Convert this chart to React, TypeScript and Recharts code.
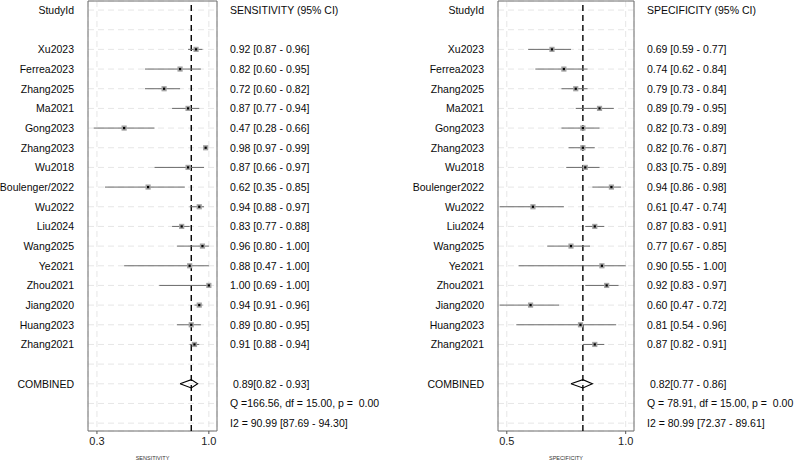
import {
  ScatterChart,
  Scatter,
  XAxis,
  YAxis,
  CartesianGrid,
  ErrorBar,
  ReferenceLine,
  ReferenceArea,
} from "recharts";

// study labels (spelling differs slightly between the two panels)
const sensStudies = [
  "Xu2023", "Ferrea2023", "Zhang2025", "Ma2021", "Gong2023", "Zhang2023",
  "Wu2018", "Boulenger/2022", "Wu2022", "Liu2024", "Wang2025", "Ye2021",
  "Zhou2021", "Jiang2020", "Huang2023", "Zhang2021",
];
const specStudies = [
  "Xu2023", "Ferrea2023", "Zhang2025", "Ma2021", "Gong2023", "Zhang2023",
  "Wu2018", "Boulenger2022", "Wu2022", "Liu2024", "Wang2025", "Ye2021",
  "Zhou2021", "Jiang2020", "Huang2023", "Zhang2021",
];

const sensitivity = [0.92, 0.82, 0.72, 0.87, 0.47, 0.98, 0.87, 0.62, 0.94, 0.83, 0.96, 0.88, 1.0, 0.94, 0.89, 0.91];
const sensLower = [0.87, 0.6, 0.6, 0.77, 0.28, 0.97, 0.66, 0.35, 0.88, 0.77, 0.8, 0.47, 0.69, 0.91, 0.8, 0.88];
const sensUpper = [0.96, 0.95, 0.82, 0.94, 0.66, 0.99, 0.97, 0.85, 0.97, 0.88, 1.0, 1.0, 1.0, 0.96, 0.95, 0.94];

const specificity = [0.69, 0.74, 0.79, 0.89, 0.82, 0.82, 0.83, 0.94, 0.61, 0.87, 0.77, 0.9, 0.92, 0.6, 0.81, 0.87];
const specLower = [0.59, 0.62, 0.73, 0.79, 0.73, 0.76, 0.75, 0.86, 0.47, 0.83, 0.67, 0.55, 0.83, 0.47, 0.54, 0.82];
const specUpper = [0.77, 0.84, 0.84, 0.95, 0.89, 0.87, 0.89, 0.98, 0.74, 0.91, 0.85, 1.0, 0.97, 0.72, 0.96, 0.91];

// pooled estimate [value, lower, upper]
const sensPooled = [0.89, 0.82, 0.93];
const specPooled = [0.82, 0.77, 0.86];

// heterogeneity: Q [Q, df, p], I2 [value, lower, upper]
const sensQ = [166.56, 15.0, 0.0];
const sensI2 = [90.99, 87.69, 94.3];
const specQ = [78.91, 15.0, 0.0];
const specI2 = [80.99, 72.37, 89.61];

const sensTicks = [0.3, 1.0];
const specTicks = [0.5, 1.0];

const FONT = "'Liberation Sans', Arial, sans-serif";
const ROWS = 22;
const rowTicks = Array.from({ length: ROWS }, (_, i) => i);
const yDomain: [number, number] = [-0.46, 21.4];

const f2 = (v: number) => v.toFixed(2);

interface PanelProps {
  names: string[];
  est: number[];
  lo: number[];
  hi: number[];
  pooled: number[];
  q: number[];
  i2: number[];
  title: string;
  axisTitle: string;
  xDomain: [number, number];
  xTicks: number[];
  width: number;
  leftW: number;
  rightW: number;
}

function StudyMarker(props: any) {
  const { cx, cy } = props;
  if (cx == null || cy == null) return <g />;
  return (
    <g>
      <rect x={cx - 2.6} y={cy - 2.6} width={5.2} height={5.2} fill="#a3a3a3" />
      <rect x={cx - 1.1} y={cy - 1.1} width={2.2} height={2.2} fill="#000" />
    </g>
  );
}

function ForestPanel(p: PanelProps) {
  const n = p.names.length;
  const combinedRow = n + 3;

  const points = p.est.map((v, i) => ({
    x: v,
    y: i + 2,
    err: [v - p.lo[i], p.hi[i] - v],
  }));

  const [pv, plo, phi] = p.pooled;
  const h = 0.21;
  const diamond = [
    { x: plo, y: combinedRow },
    { x: pv, y: combinedRow - h },
    { x: phi, y: combinedRow },
    { x: pv, y: combinedRow + h },
    { x: plo, y: combinedRow },
  ];

  const leftLabels: string[] = Array(ROWS).fill("");
  leftLabels[0] = "StudyId";
  p.names.forEach((s, i) => (leftLabels[i + 2] = s));
  leftLabels[combinedRow] = "COMBINED";

  const rightLabels: string[] = Array(ROWS).fill("");
  rightLabels[0] = p.title;
  p.est.forEach(
    (v, i) => (rightLabels[i + 2] = `${f2(v)} [${f2(p.lo[i])} - ${f2(p.hi[i])}]`)
  );
  rightLabels[combinedRow] = ` ${f2(pv)}[${f2(plo)} - ${f2(phi)}]`;
  rightLabels[combinedRow + 1] = `Q =${f2(p.q[0]).padStart(6)}, df = ${f2(p.q[1])}, p = ${f2(p.q[2]).padStart(5)}`;
  rightLabels[combinedRow + 2] = `I2 = ${f2(p.i2[0])} [${f2(p.i2[1])} - ${f2(p.i2[2])}]`;

  const tickText = (labels: string[], anchor: "start" | "end") => (t: any) => (
    <text
      x={t.x}
      y={t.y}
      dy="0.36em"
      textAnchor={anchor}
      fontSize={10.5}
      fill="#0a0a0a"
      xmlSpace="preserve"
      style={{ whiteSpace: "pre" }}
    >
      {labels[t.payload.value] ?? ""}
    </text>
  );

  return (
    <ScatterChart
      width={p.width}
      height={460}
      margin={{ top: 1, right: 0, bottom: 0, left: 0 }}
    >
      <CartesianGrid stroke="#e6e6e6" strokeDasharray="6 4" />
      <XAxis
        type="number"
        dataKey="x"
        domain={p.xDomain}
        ticks={p.xTicks}
        allowDataOverflow
        tickFormatter={(v: number) => v.toFixed(1)}
        tickSize={3}
        tickMargin={3}
        axisLine={false}
        tickLine={{ stroke: "#555" }}
        tick={{ fontSize: 11, fill: "#222" }}
        height={29}
        label={{
          value: p.axisTitle,
          position: "insideBottom",
          offset: 0,
          fontSize: 5.5,
          fill: "#333",
        }}
      />
      <YAxis
        type="number"
        dataKey="y"
        domain={yDomain}
        allowDataOverflow
        reversed
        ticks={rowTicks}
        interval={0}
        width={p.leftW}
        axisLine={false}
        tickLine={false}
        tickSize={0}
        tickMargin={14}
        tick={tickText(leftLabels, "end")}
      />
      <YAxis
        yAxisId="r"
        orientation="right"
        type="number"
        domain={yDomain}
        allowDataOverflow
        reversed
        ticks={rowTicks}
        interval={0}
        width={p.rightW}
        axisLine={false}
        tickLine={false}
        tickSize={0}
        tickMargin={13}
        tick={tickText(rightLabels, "start")}
      />
      <ReferenceArea
        x1={p.xDomain[0]}
        x2={p.xDomain[1]}
        y1={yDomain[0]}
        y2={yDomain[1]}
        fill="none"
        stroke="#6e6e6e"
        strokeWidth={1}
        ifOverflow="visible"
      />
      <ReferenceLine
        x={pv}
        stroke="#000"
        strokeWidth={1.4}
        strokeDasharray="6 4"
      />
      <Scatter
        data={points}
        shape={StudyMarker}
        isAnimationActive={false}
      >
        <ErrorBar
          dataKey="err"
          direction="x"
          width={0}
          stroke="#6a6a6a"
          strokeWidth={1}
          isAnimationActive={false}
        />
      </Scatter>
      <Scatter
        data={diamond}
        line={{ stroke: "#000", strokeWidth: 1.1 }}
        shape={() => <g />}
        isAnimationActive={false}
      />
    </ScatterChart>
  );
}

export default function App() {
  return (
    <div
      style={{
        position: "absolute",
        left: 0,
        top: 0,
        width: 795,
        height: 460,
        background: "#fff",
        display: "flex",
        fontFamily: FONT,
      }}
    >
      <ForestPanel
        names={sensStudies}
        est={sensitivity}
        lo={sensLower}
        hi={sensUpper}
        pooled={sensPooled}
        q={sensQ}
        i2={sensI2}
        title="SENSITIVITY (95% CI)"
        axisTitle="SENSITIVITY"
        xDomain={[0.244, 1.051]}
        xTicks={sensTicks}
        width={400}
        leftW={88}
        rightW={183}
      />
      <ForestPanel
        names={specStudies}
        est={specificity}
        lo={specLower}
        hi={specUpper}
        pooled={specPooled}
        q={specQ}
        i2={specI2}
        title="SPECIFICITY (95% CI)"
        axisTitle="SPECIFICITY"
        xDomain={[0.463, 1.035]}
        xTicks={specTicks}
        width={395}
        leftW={98}
        rightW={161}
      />
    </div>
  );
}
